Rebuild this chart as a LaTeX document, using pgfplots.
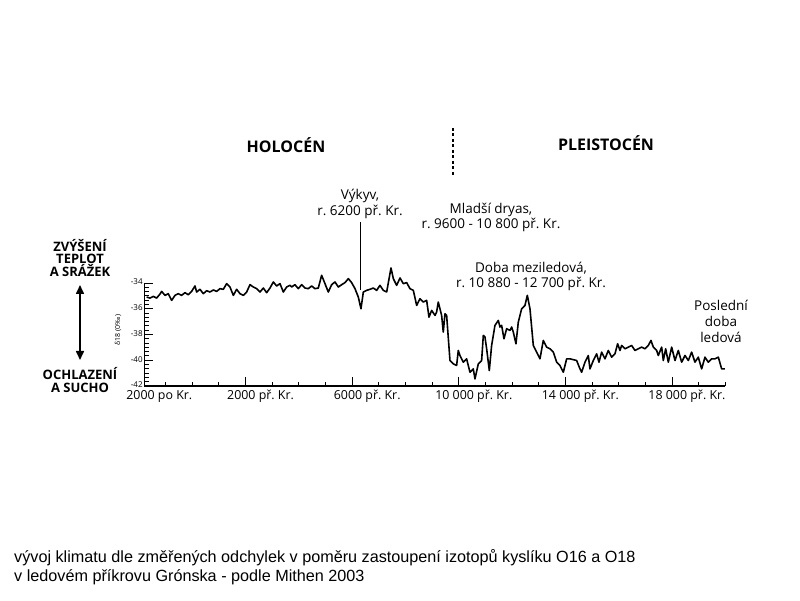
\documentclass[border=0pt]{standalone}
\usepackage{fontspec}
\setmainfont{Open Sans}
\newfontfamily\capfont{Liberation Sans}
\usepackage{pgfplots}
\pgfplotsset{compat=1.18}
\usetikzlibrary{arrows.meta}
\frenchspacing
\begin{document}
\begin{tikzpicture}[x=1pt,y=1pt]
\useasboundingbox (0,0) rectangle (800,600);
\fill[white] (0,0) rectangle (800,600);
\begin{axis}[
  at={(144.3pt,214pt)}, anchor=south west,
  scale only axis, width=581pt, height=103pt,
  xmin=200, xmax=22000, ymin=-42, ymax=-34,
  scaled x ticks=false,
  axis lines=left, axis line style={-, line width=1.2pt, black},
  tick align=inside,
  major tick length=9pt, minor tick length=4.5pt,
  every tick/.style={black, line width=1pt},
  xtick={200,4000,8000,12000,16000,20000},
  xticklabels={2000 po Kr., 2000 př. Kr., 6000 př. Kr., {10 000 př. Kr.}, {14 000 př. Kr.}, {18 000 př. Kr.}},
  minor xtick={1000,2000,...,22000},
  ytick={-42,-40,-38,-36,-34},
  yticklabels={-42,-40,-38,-36,-34},
  minor y tick num=5,
  xticklabel style={font=\fontsize{12.4pt}{14pt}\selectfont, xshift=15pt, yshift=-2.5pt, inner sep=1.5pt},
  yticklabel style={font=\fontsize{8pt}{9pt}\selectfont, inner sep=1.5pt, yshift=1pt},
  clip=false,
]
\addplot[black, line width=1.6pt, line join=round] coordinates {
(288,-35.09)(413,-35.17)(538,-35.04)(663,-35.17)(788,-34.86)(851,-34.65)(976,-34.96)(1101,-34.83)(1226,-35.35)(1351,-34.96)(1476,-34.83)(1601,-34.96)(1726,-34.75)(1851,-34.91)(1976,-34.65)(2102,-34.23)(2164,-34.70)(2289,-34.49)(2414,-34.83)(2540,-34.60)(2665,-34.70)(2790,-34.54)(2915,-34.65)(3040,-34.44)(3165,-34.49)(3290,-34.05)(3415,-34.31)(3540,-34.96)(3665,-34.49)(3790,-34.83)(3915,-34.96)(4040,-34.70)(4166,-34.13)(4291,-34.31)(4416,-34.44)(4541,-34.70)(4666,-34.39)(4791,-34.75)(4916,-34.39)(5041,-33.92)(5166,-34.23)(5291,-34.05)(5416,-34.70)(5541,-34.31)(5666,-34.18)
(5728,-34.31)(5853,-34.13)(5978,-34.44)(6104,-34.13)(6229,-34.39)(6354,-34.44)(6479,-34.23)(6604,-34.44)(6729,-34.39)(6854,-33.40)(6979,-34.05)(7104,-34.70)(7229,-34.13)(7354,-33.92)(7480,-34.31)(7605,-34.13)(7730,-33.97)(7855,-33.66)(7980,-33.97)(8105,-34.44)(8230,-35.09)(8330,-36.00)(8418,-34.70)(8543,-34.57)(8668,-34.49)(8793,-34.39)(8918,-34.57)(9043,-34.18)(9168,-34.57)(9294,-34.70)(9456,-32.83)(9544,-33.66)(9669,-34.18)(9794,-33.61)(9919,-34.05)(10044,-33.97)(10169,-34.44)(10294,-34.57)(10419,-35.74)(10544,-35.22)(10669,-35.48)(10794,-35.35)(10882,-36.65)(10982,-36.13)(11108,-36.52)
(11168,-36.26)(11231,-35.48)(11356,-36.52)(11418,-37.81)(11481,-36.39)(11544,-36.52)(11669,-40.02)(11794,-40.28)(11919,-40.41)(11981,-39.24)(12044,-39.63)(12169,-40.15)(12294,-39.89)(12419,-40.93)(12544,-40.67)(12607,-41.45)(12732,-40.28)(12857,-40.02)(12920,-38.07)(12982,-38.20)(13045,-39.11)(13145,-40.80)(13232,-38.85)(13357,-37.29)(13483,-36.91)(13545,-37.42)(13608,-37.29)(13695,-38.33)(13795,-37.55)(13920,-37.68)(13983,-37.42)(14045,-37.81)(14145,-38.72)(14233,-37.04)(14358,-36.00)(14483,-35.74)(14571,-34.96)(14671,-36.00)(14796,-38.85)(14921,-39.37)(15046,-39.89)(15171,-38.46)(15296,-38.98)(15421,-39.11)(15547,-39.37)(15672,-40.15)(15797,-40.41)(15922,-40.93)(16047,-39.89)(16172,-39.89)(16422,-40.02)(16547,-40.67)
(16609,-40.93)(16734,-40.15)(16859,-39.63)(16922,-40.67)(17047,-40.02)(17172,-39.50)(17260,-40.15)(17360,-39.37)(17485,-39.89)(17610,-39.24)(17735,-39.76)(17860,-39.50)(17960,-38.72)(18048,-39.24)(18110,-38.85)(18235,-39.11)(18360,-38.98)(18486,-38.85)(18611,-39.24)(18736,-39.11)(18861,-38.98)(18986,-39.11)(19111,-38.85)(19211,-38.46)(19299,-38.98)(19424,-39.24)(19486,-39.63)(19612,-38.98)(19674,-40.02)(19762,-39.11)(19862,-40.15)(19987,-38.98)(20112,-40.02)(20237,-39.24)(20362,-40.15)(20487,-39.63)(20612,-40.02)(20737,-39.37)(20862,-40.15)(20987,-39.76)(21112,-40.67)(21237,-39.76)(21362,-40.15)(21488,-39.89)(21613,-39.89)(21738,-39.76)(21863,-40.67)(21988,-40.67)
};
\end{axis}
% era titles
\node[font=\bfseries\fontsize{16pt}{18pt}\selectfont] at (286,455) {HOLOCÉN};
\node[font=\bfseries\fontsize{16pt}{18pt}\selectfont] at (606,457) {PLEISTOCÉN};
\draw[line width=2pt, dash pattern=on 3pt off 2.5pt] (453,472) -- (453,425);
% annotations
\begin{scope}[every node/.style={font=\fontsize{13.5pt}{15pt}\selectfont, inner sep=0pt}]
\node at (360,404) {Výkyv,};
\node at (360,388) {r. 6200 př. Kr.};
\node at (491,390) {Mladší dryas,};
\node at (491,375) {r. 9600 - 10 800 př. Kr.};
\node at (531,332) {Doba meziledová,};
\node at (531,316) {r. 10 880 - 12 700 př. Kr.};
\node at (721,295) {Poslední};
\node at (721,279) {doba};
\node at (721,263) {ledová};
\end{scope}
\draw[line width=0.8pt] (360,378) -- (360,310);
% left side
\begin{scope}[every node/.style={font=\bfseries\fontsize{13pt}{14pt}\selectfont, inner sep=0pt, anchor=base}]
\node at (80,348.5) {ZVÝŠENÍ};
\node at (80,336.5) {TEPLOT};
\node at (80,323) {A SRÁŽEK};
\node at (80,220) {OCHLAZENÍ};
\node at (80,207) {A SUCHO};
\end{scope}
\draw[{Triangle[length=9pt,width=8pt]}-{Triangle[length=9pt,width=8pt]}, line width=1.6pt] (80,315) -- (80,240);
\node[rotate=90, font=\fontsize{7pt}{8pt}\selectfont, inner sep=0pt] at (118,270) {δ18 (0‰)};
% caption
\node[anchor=west, font=\capfont\fontsize{16.2pt}{18pt}\selectfont, inner sep=0pt] at (14,42) {vývoj klimatu dle změřených odchylek v poměru zastoupení izotopů kyslíku O16 a O18};
\node[anchor=west, font=\capfont\fontsize{16.2pt}{18pt}\selectfont, inner sep=0pt] at (14,23) {v ledovém příkrovu Grónska - podle Mithen 2003};
\end{tikzpicture}
\end{document}
